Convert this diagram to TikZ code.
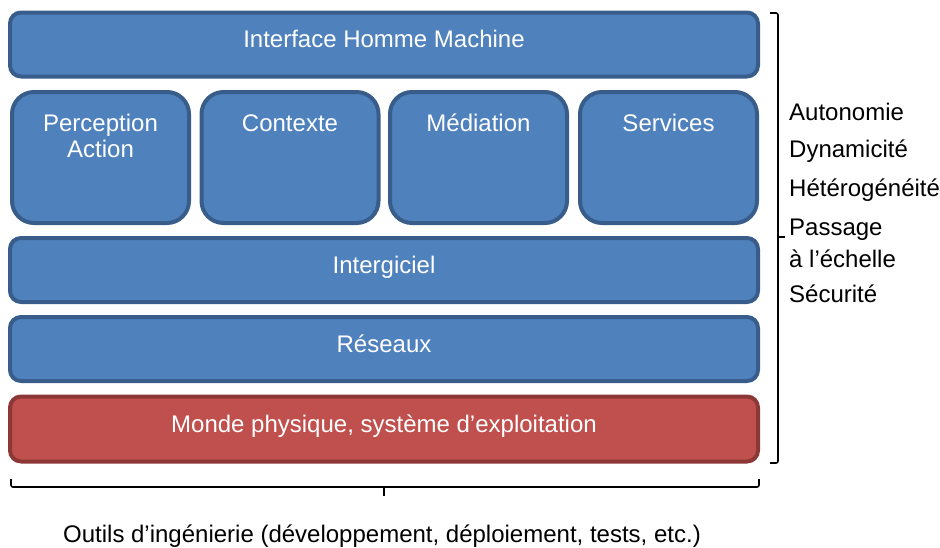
\documentclass[tikz,border=0pt]{standalone}
\usepackage{fontspec}
\setmainfont{Liberation Sans}
\definecolor{layerfill}{HTML}{4F81BD}
\definecolor{layeredge}{HTML}{385D8A}
\definecolor{osfill}{HTML}{C0504D}
\definecolor{osedge}{HTML}{8C3836}
\tikzset{
  layer/.style={draw=layeredge, fill=layerfill, line width=4pt, rounded corners=11pt,
    inner sep=0pt, minimum width=748pt, minimum height=64pt},
  module/.style={draw=layeredge, fill=layerfill, line width=4pt, rounded corners=22pt,
    inner sep=0pt, minimum width=177pt, minimum height=131pt},
  oslayer/.style={layer, draw=osedge, fill=osfill},
  boxtext/.style={anchor=base, text=white, inner sep=0pt, font=\fontsize{24}{27}\selectfont, align=center},
  sidetext/.style={anchor=base west, inner sep=0pt, font=\fontsize{24}{27}\selectfont},
  bracket/.style={draw=black, line width=1.6pt, rounded corners=2pt}
}
\begin{document}
\begin{tikzpicture}[x=1pt, y=-1pt]
\useasboundingbox (0,0) rectangle (940,547);

% stacked layers
\node[layer] (ihm) at (384,44.5) {};
\node[module] (perc) at (100.5,157.5) {};
\node[module] (ctx) at (290,157.5) {};
\node[module] (med) at (478.5,157.5) {};
\node[module] (serv) at (668.5,157.5) {};
\node[layer] (mid) at (384,270) {};
\node[layer] (net) at (384,349) {};
\node[oslayer, minimum height=65pt] (os) at (384,429) {};

% layer captions (a two-line caption is placed by its last baseline)
\node[boxtext] (tihm) at (384,47) {Interface Homme Machine};
\node[boxtext] (tperc) at (100.5,157) {Perception\\[-1pt]Action};
\node[boxtext] (tctx) at (290,131) {Contexte};
\node[boxtext] (tmed) at (478.5,131) {Médiation};
\node[boxtext] (tserv) at (668.5,131) {Services};
\node[boxtext] (tmid) at (384,273.5) {Intergiciel};
\node[boxtext] (tnet) at (384,352.5) {Réseaux};
\node[boxtext] (tos) at (384,432) {Monde physique, système d’exploitation};

% right-hand bracket and cross-cutting properties
\coordinate (rtop) at (770,13);
\coordinate (rbot) at (770,463);
\coordinate (rmid) at (785,237);
\draw[bracket] (rtop) -- (778,13) -- (778,463) -- (rbot);
\draw[bracket, rounded corners=0pt] (778,237) -- (rmid);
\node[sidetext] (p1) at (789,120) {Autonomie};
\node[sidetext] (p2) at (789,157) {Dynamicité};
\node[sidetext] (p3) at (789,196) {Hétérogénéité};
\node[sidetext] (p4) at (789,235) {Passage};
\node[sidetext] (p5) at (789,267.5) {à l’échelle};
\node[sidetext] (p6) at (789,302) {Sécurité};

% bottom bracket and tooling caption
\coordinate (bl) at (11,479);
\coordinate (br) at (759,479);
\coordinate (bmid) at (384,496);
\draw[bracket] (bl) -- (11,487) -- (759,487) -- (br);
\draw[bracket, rounded corners=0pt] (384,487) -- (bmid);
\node[anchor=base, inner sep=0pt, font=\fontsize{24}{27}\selectfont] (tools) at (382,542)
  {Outils d’ingénierie (développement, déploiement, tests, etc.)};
\end{tikzpicture}
\end{document}
